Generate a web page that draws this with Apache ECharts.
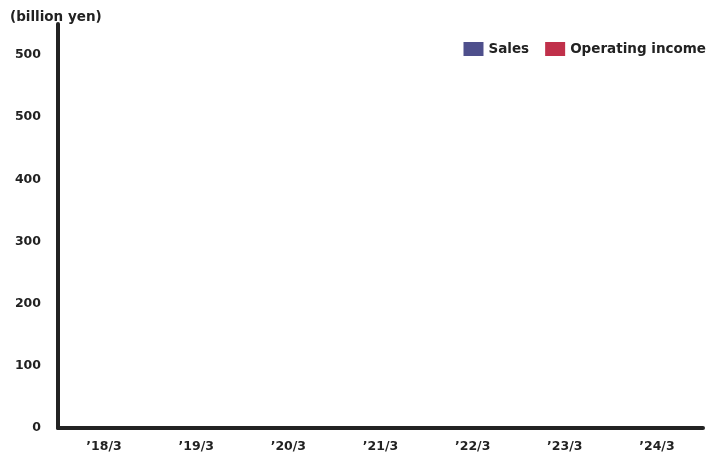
<!DOCTYPE html>
<html>
<head>
<meta charset="utf-8">
<script src="https://cdn.jsdelivr.net/npm/echarts@6/dist/echarts.min.js"></script>
<style>
html,body{margin:0;padding:0;background:#fff;}
#chart{width:711px;height:462px;}
</style>
</head>
<body>
<div id="chart"></div>
<script>
var categories = ["’18/3", "’19/3", "’20/3", "’21/3", "’22/3", "’23/3", "’24/3"];
// nothing is drawn in the picture for either series
var salesData = [];
var incomeData = [];
var yTickLabels = ["0", "100", "200", "300", "400", "500", "500"];

var myChart = echarts.init(document.getElementById("chart"));
var font = "'DejaVu Sans', 'Noto Sans', sans-serif";
var option = {
  animation: false,
  textStyle: { fontFamily: font },
  title: {
    text: "(billion yen)",
    left: 5,
    top: 5,
    textStyle: { fontSize: 13.5, fontWeight: "bold", color: "#222", fontFamily: font }
  },
  legend: {
    right: 0,
    top: 37,
    itemWidth: 20,
    itemHeight: 14,
    itemGap: 16,
    icon: "rect",
    textStyle: { fontSize: 13.5, fontWeight: "bold", color: "#222", fontFamily: font }
  },
  grid: { left: 58, right: 8, top: 24, bottom: 34, containLabel: false },
  xAxis: {
    type: "category",
    data: categories,
    axisLine: { lineStyle: { color: "#222", width: 4, cap: "round" } },
    axisTick: { show: false },
    axisLabel: { fontSize: 12.5, fontWeight: "bold", color: "#222", margin: 12, fontFamily: font }
  },
  yAxis: {
    type: "value",
    min: 0,
    max: 650,
    interval: 100,
    axisLine: { show: true, lineStyle: { color: "#222", width: 4, cap: "round" } },
    axisTick: { show: false },
    splitLine: { show: false },
    axisLabel: {
      fontSize: 12.5,
      fontWeight: "bold",
      color: "#222",
      margin: 17,
      fontFamily: font,
      formatter: function (v) {
        var i = Math.round(v / 100);
        if (v % 100 !== 0 || yTickLabels[i] === undefined) return "";
        return yTickLabels[i];
      }
    }
  },
  series: [
    { name: "Sales", type: "bar", data: salesData, itemStyle: { color: "#4e4f8c" } },
    { name: "Operating income", type: "bar", data: incomeData, itemStyle: { color: "#c0304a" } }
  ]
};
myChart.setOption(option);
</script>
</body>
</html>
